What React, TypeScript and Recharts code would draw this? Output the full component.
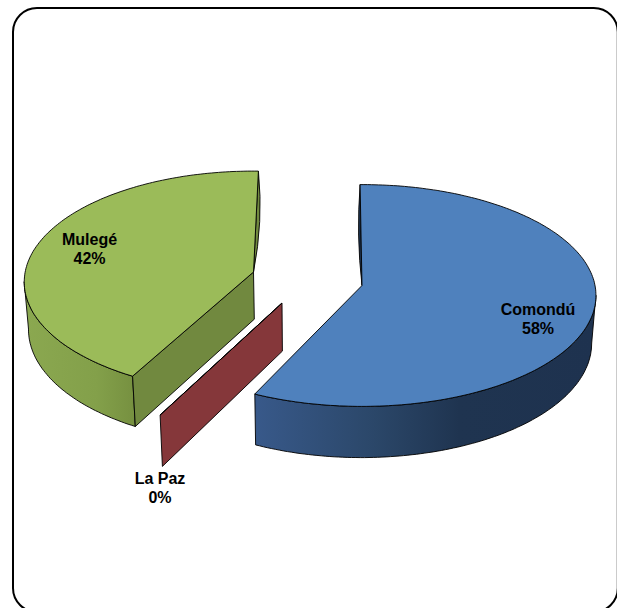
import React from "react";
import { Pie, PieChart } from "recharts";

const MUNICIPIOS = ["Comondú", "La Paz", "Mulegé"];
const PERCENTS = [58, 0, 42];

const TOP_COLORS: Record<string, string> = {
  "Comondú": "#4f81bd",
  "La Paz": "#c0504d",
  "Mulegé": "#9bbb59",
};
const CUT_COLORS: Record<string, string> = {
  "Comondú": "#1f3552",
  "La Paz": "#85373a",
  "Mulegé": "#71893f",
};

// how far each slice is pulled from the pie centre, small angle nudges, and the
// per-slice stretch that comes with sitting off to one side of the view
const EXPLODE: Record<string, { dx: number; dy: number; startTrim: number; endTrim: number; sx: number; sy: number }> = {
  "Comondú": { dx: 52, dy: -4.5, startTrim: 0.5, endTrim: 3.8, sx: 1, sy: 1 },
  "La Paz": { dx: -28, dy: 13, startTrim: 0, endTrim: 0, sx: 1, sy: 1.07 },
  "Mulegé": { dx: -56.5, dy: -18, startTrim: -0.4, endTrim: -1.35, sx: 0.98, sy: 1 },
};
const LABEL_AT: Record<string, { x: number; y: number }> = {
  "Comondú": { x: 538, y: 315 },
  "La Paz": { x: 160, y: 484 },
  "Mulegé": { x: 89.5, y: 245 },
};

const WIDTH = 617;
const HEIGHT = 608;
const PIE_X = 310;
const PIE_Y = 290;
const RADIUS = 233;

// tilted-disc projection: nearer edge reads bigger than the far edge
const SQUASH = 110 / 233;
const NEAR_FAR = 0.09;
const VANISH_X = 310;

type Pt = { x: number; y: number };

const onTop = (ox: number, oy: number, r: number, deg: number, sx: number, sy: number): Pt => {
  const a = (deg * Math.PI) / 180;
  const w = 1 + NEAR_FAR * Math.sin(a);
  return {
    x: ox + (sx * r * Math.cos(a)) / w,
    y: oy - (sy * r * SQUASH * Math.sin(a)) / w,
  };
};

// same point dropped to the underside of the disc
const under = (p: Pt): Pt => ({
  x: VANISH_X + (p.x - VANISH_X) * 0.985,
  y: p.y * 1.03 + 39,
});

const poly = (pts: Pt[]) =>
  pts.map((p, i) => `${i ? "L" : "M"}${p.x.toFixed(1)} ${p.y.toFixed(1)}`).join(" ") + " Z";

const sweep = (from: number, to: number) => {
  const n = Math.max(1, Math.ceil(Math.abs(to - from)));
  return Array.from({ length: n + 1 }, (_, i) => from + ((to - from) * i) / n);
};

function Slice3D(props: any) {
  const { cx, cy, outerRadius, startAngle, endAngle, name } = props;
  const ex = EXPLODE[name];
  const ox = cx + ex.dx;
  const oy = cy + ex.dy;
  const start = startAngle + ex.startTrim;
  const end = endAngle + ex.endTrim;
  const apex = { x: ox, y: oy };
  const at = (d: number) => onTop(ox, oy, outerRadius, d, ex.sx, ex.sy);
  const arc = sweep(start, end).map(at);

  // the rim only shows on the front half of the disc
  const rimFrom = Math.min(start, -5);
  const rimTo = Math.max(end, -175);
  const rim = rimFrom > rimTo ? sweep(rimFrom, rimTo).map(at) : [];

  const first = arc[0];
  const last = arc[arc.length - 1];
  const startShows = Math.sin((start * Math.PI) / 180) < 0;
  const endShows = Math.sin((end * Math.PI) / 180) > 0;
  const backEdge = startShows ? (endShows ? last : null) : first;
  const bulge = backEdge === first ? -4 : 5;
  const isFlat = startAngle === endAngle;

  return (
    <g>
      {rim.length > 1 && !isFlat && (
        <path
          d={poly([...rim, ...[...rim].reverse().map(under)])}
          fill={`url(#rim-${name === "Comondú" ? "blue" : "green"})`}
          stroke="#000"
          strokeWidth={0.9}
        />
      )}
      {startShows && (
        <path
          d={poly([apex, first, under(first), under(apex)])}
          fill={CUT_COLORS[name]}
          stroke="#000"
          strokeWidth={0.9}
        />
      )}
      {backEdge && !isFlat && (
        <path
          d={`M${backEdge.x} ${backEdge.y} Q${backEdge.x + bulge} ${(backEdge.y + oy) / 2} ${ox} ${oy} Z`}
          fill={CUT_COLORS[name]}
          stroke="#000"
          strokeWidth={0.9}
        />
      )}
      <path d={poly([apex, ...arc])} fill={TOP_COLORS[name]} stroke="#000" strokeWidth={0.9} />
    </g>
  );
}

function SliceLabel(props: any) {
  const { name, value } = props;
  const at = LABEL_AT[name];
  return (
    <text
      x={at.x}
      y={at.y}
      textAnchor="middle"
      fontFamily="'Liberation Sans', Arial, sans-serif"
      fontSize={16}
      fontWeight="bold"
      fill="#000"
    >
      <tspan x={at.x}>{name}</tspan>
      <tspan x={at.x} dy={19}>{`${value}%`}</tspan>
    </text>
  );
}

const rows = MUNICIPIOS.map((name, i) => ({ name, value: PERCENTS[i] }));

export default function App() {
  return (
    <div style={{ position: "absolute", left: 0, top: 0, width: WIDTH, height: HEIGHT, overflow: "hidden", background: "#fff" }}>
      <PieChart width={WIDTH} height={HEIGHT} margin={{ top: 0, right: 0, bottom: 0, left: 0 }}>
        <defs>
          <linearGradient id="rim-blue" x1="0" y1="0" x2="1" y2="0">
            <stop offset="0" stopColor="#38598a" />
            <stop offset="0.35" stopColor="#2b4769" />
            <stop offset="0.6" stopColor="#1f3450" />
            <stop offset="1" stopColor="#1e324f" />
          </linearGradient>
          <linearGradient id="rim-green" x1="0" y1="0" x2="1" y2="0">
            <stop offset="0" stopColor="#8ba850" />
            <stop offset="0.65" stopColor="#83a04a" />
            <stop offset="1" stopColor="#769040" />
          </linearGradient>
        </defs>
        <rect x={13} y={8} width={604.8} height={604} rx={24} ry={24} fill="none" stroke="#000" strokeWidth={2} />
        <Pie
          data={rows}
          dataKey="value"
          nameKey="name"
          cx={PIE_X}
          cy={PIE_Y}
          innerRadius={0}
          outerRadius={RADIUS}
          startAngle={90}
          endAngle={-270}
          paddingAngle={0}
          isAnimationActive={false}
          shape={Slice3D}
          label={SliceLabel}
          labelLine={false}
        />
      </PieChart>
    </div>
  );
}
